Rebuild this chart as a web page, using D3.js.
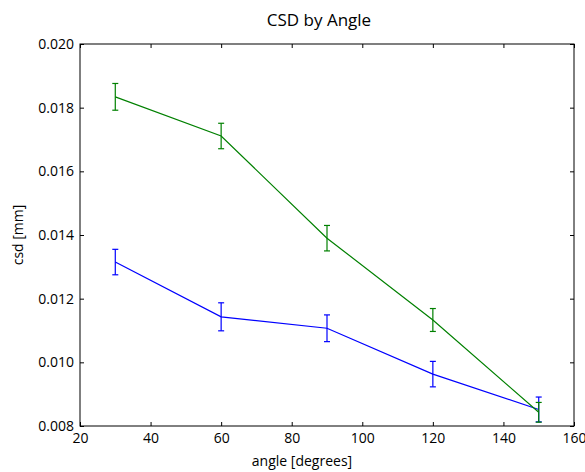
<!DOCTYPE html>
<html><head><meta charset="utf-8">
<script src="https://cdn.jsdelivr.net/npm/d3@7/dist/d3.min.js"></script>
<style>body{margin:0;background:#fff}svg{display:block}text{font-family:"Open Sans",sans-serif;fill:#000}</style>
</head><body>
<svg id="c" width="585" height="472"></svg>
<script>
const angles = [30, 60, 90, 120, 150];
const blueValues = [0.01315, 0.01143, 0.01107, 0.00963, 0.00852];
const blueErrors = [0.00040, 0.00044, 0.00042, 0.00040, 0.00039];
const greenValues = [0.01834, 0.01711, 0.01390, 0.01133, 0.00843];
const greenErrors = [0.00042, 0.00040, 0.00040, 0.00036, 0.00031];
const xTicks = [20, 40, 60, 80, 100, 120, 140, 160];
const yTicks = [0.008, 0.010, 0.012, 0.014, 0.016, 0.018, 0.020];

const L = 80, R = 574, T = 44, B = 426;
const svg = d3.select("#c");
const x = d3.scaleLinear().domain([20, 160]).range([L, R]);
const y = d3.scaleLinear().domain([0.008, 0.020]).range([B, T]);

const series = [
  {vals: blueValues, errs: blueErrors, color: "#0000ff"},
  {vals: greenValues, errs: greenErrors, color: "#008000"}
];
const line = d3.line().x((d, i) => x(angles[i])).y(d => y(d));
series.forEach(s => {
  const g = svg.append("g");
  g.append("path").attr("d", line(s.vals)).attr("fill", "none")
    .attr("stroke", s.color).attr("stroke-width", 1.2);
  s.vals.forEach((v, i) => {
    const cx = x(angles[i]);
    const y1 = y(v + s.errs[i]), y2 = y(v - s.errs[i]);
    g.append("line").attr("x1", cx).attr("x2", cx).attr("y1", y1).attr("y2", y2)
      .attr("stroke", s.color).attr("stroke-width", 1.2);
    [y1, y2].forEach(yy => g.append("line").attr("x1", cx - 3).attr("x2", cx + 3)
      .attr("y1", yy).attr("y2", yy).attr("stroke", s.color).attr("stroke-width", 1.2));
  });
});

// axes with inward ticks
const fmt = d3.format(".3f");
const ax = d3.axisBottom(x).tickValues(xTicks).tickSizeInner(-4).tickSizeOuter(0).tickPadding(7);
const axT = d3.axisTop(x).tickValues(xTicks).tickSizeInner(-4).tickSizeOuter(0).tickFormat("");
const ay = d3.axisLeft(y).tickValues(yTicks).tickSizeInner(-4).tickSizeOuter(0).tickPadding(6).tickFormat(fmt);
const ayR = d3.axisRight(y).tickValues(yTicks).tickSizeInner(-4).tickSizeOuter(0).tickFormat("");
function style(g) {
  g.select(".domain").remove();
  g.selectAll(".tick line").attr("stroke", "#000");
  g.selectAll("text").attr("font-size", 14).attr("font-family", "Open Sans, sans-serif");
}
svg.append("g").attr("transform", `translate(0,${B})`).call(ax).call(style);
svg.append("g").attr("transform", `translate(0,${T})`).call(axT).call(style);
svg.append("g").attr("transform", `translate(${L},0)`).call(ay).call(style);
svg.append("g").attr("transform", `translate(${R},0)`).call(ayR).call(style);
svg.append("rect").attr("x", L).attr("y", T).attr("width", R - L).attr("height", B - T)
  .attr("fill", "none").attr("stroke", "#000").attr("stroke-width", 1);

svg.append("text").attr("x", 319).attr("y", 26).attr("text-anchor", "middle")
  .attr("font-size", 17).text("CSD by Angle");
svg.append("text").attr("x", 302).attr("y", 466).attr("text-anchor", "middle")
  .attr("font-size", 14).text("angle [degrees]");
svg.append("text").attr("transform", `translate(23,${(T + B) / 2}) rotate(-90)`)
  .attr("text-anchor", "middle").attr("font-size", 14).text("csd [mm]");
</script>
</body></html>
